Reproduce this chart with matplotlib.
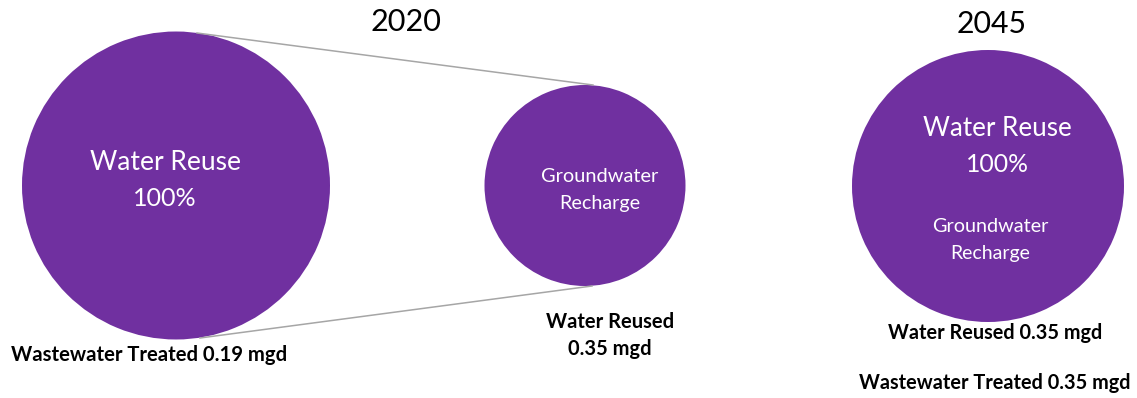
import matplotlib
matplotlib.use("Agg")
import matplotlib.pyplot as plt

# ---- data ----
years = ["2020", "2045"]
wastewater_treated_mgd = [0.19, 0.35]
water_reused_mgd = [0.35, 0.35]
reuse_share_pct = [100, 100]
reuse_category = "Water Reuse"
reuse_use = "Groundwater Recharge"

PURPLE = "#7030A0"
W, H = 1137, 398
DPI = 100
FONT = ["Lato", "DejaVu Sans"]

fig = plt.figure(figsize=(W / DPI, H / DPI), dpi=DPI)
ax = fig.add_axes([0, 0, 1, 1])
ax.set_xlim(0, W)
ax.set_ylim(H, 0)
ax.set_aspect("equal")
ax.axis("off")

fig.canvas.draw()
renderer = fig.canvas.get_renderer()


def fit_text(x, y, s, width, ha="center", **kw):
    t = ax.text(x, y, s, ha=ha, va="center", family=FONT, fontsize=20, **kw)
    w = t.get_window_extent(renderer=renderer).width
    t.set_fontsize(20 * width / w)
    return t


def circle(cx, cy, r, share):
    ax.pie([share], radius=r, center=(cx, cy), colors=[PURPLE],
           startangle=90, frame=True, wedgeprops=dict(linewidth=0))


# 2020 main circle and breakout circle
circle(176, 185.5, 154, reuse_share_pct[0])
circle(585, 185.5, 100.5, reuse_share_pct[0])
ax.plot([197, 593], [33, 85], color="#a6a6a6", lw=1.1)
ax.plot([200, 592], [338, 286], color="#a6a6a6", lw=1.1)
ax.set_xlim(0, W)
ax.set_ylim(H, 0)

# 2045 circle
circle(988, 186, 136, reuse_share_pct[1])
ax.set_xlim(0, W)
ax.set_ylim(H, 0)
ax.axis("off")

# titles
fit_text(406, 22, years[0], 71)
fit_text(992, 24, years[1], 70)

# 2020 texts
fit_text(165, 162, reuse_category, 151, color="white")
fit_text(165, 198, f"{reuse_share_pct[0]}%", 64, color="white")
gw1, gw2 = reuse_use.split(" ")
fit_text(600, 177, gw1, 118, color="white")
fit_text(600, 203, gw2, 81, color="white")
fit_text(11, 355, f"Wastewater Treated {wastewater_treated_mgd[0]} mgd", 276,
         ha="left", fontweight="bold")
fit_text(610, 322, "Water Reused", 128, fontweight="bold")
fit_text(610, 349, f"{water_reused_mgd[0]} mgd", 83, fontweight="bold")

# 2045 texts
fit_text(997, 128, reuse_category, 149, color="white")
fit_text(997, 164, f"{reuse_share_pct[1]}%", 63, color="white")
fit_text(990, 227, gw1, 117, color="white")
fit_text(990, 253, gw2, 80, color="white")
fit_text(995, 333, f"Water Reused {water_reused_mgd[1]} mgd", 214, fontweight="bold")
fit_text(995, 383, f"Wastewater Treated {wastewater_treated_mgd[1]} mgd", 271,
         fontweight="bold")

fig.savefig("out.png", dpi=DPI, facecolor="white")
